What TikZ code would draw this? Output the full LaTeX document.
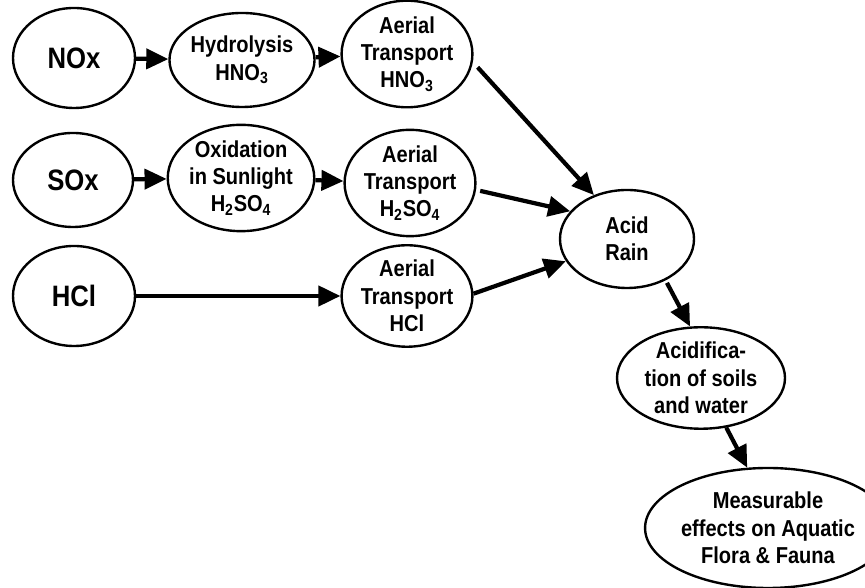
\documentclass[tikz,border=0pt]{standalone}
\usepackage{fontspec}
\setmainfont{Liberation Sans}[FakeStretch=0.87]
\usepackage{tikz}
\usetikzlibrary{shapes,arrows.meta,positioning}

\tikzset{
  blob/.style={ellipse, draw, line width=1.7pt, inner sep=0pt, align=center,
    font=\fontsize{16.4}{19.5}\selectfont\bfseries},
  big/.style={font=\fontsize{21}{22}\selectfont\bfseries},
  flow/.style={line width=3pt, -{Triangle[length=0.55cm,width=0.5cm]}}
}

\begin{document}
\begin{tikzpicture}
        \useasboundingbox (0,0) rectangle (21.625,14.7);

        % Sources
        \node[blob, big, minimum width=3.05cm, minimum height=2.5cm] (nox) at (1.85,13.25) {NOx};
        \node[blob, big, minimum width=3.0cm, minimum height=2.35cm] (sox) at (1.825,10.2) {SOx};
        \node[blob, big, minimum width=3.05cm, minimum height=2.5cm] (hcl) at (1.85,7.3) {HCl};

        % Chemistry
        \node[blob, minimum width=3.1cm, minimum height=2.35cm] (hydro) at (6.05,13.2) {Hydrolysis\\HNO\textsubscript{3}};
        \node[blob, minimum width=3.3cm, minimum height=2.55cm] (oxid) at (6.025,10.25) {Oxidation\\in Sunlight\\H\textsubscript{2}SO\textsubscript{4}};

        % Transport
        \node[blob, minimum width=3.15cm, minimum height=2.3cm] (airn) at (10.175,13.35) {Aerial\\Transport\\HNO\textsubscript{3}};
        \node[blob, minimum width=3.15cm, minimum height=2.35cm] (airs) at (10.25,10.125) {Aerial\\Transport\\H\textsubscript{2}SO\textsubscript{4}};
        \node[blob, minimum width=3.2cm, minimum height=2.5cm] (airh) at (10.175,7.3) {Aerial\\Transport\\HCl};

        % Effects
        \node[blob, minimum width=3.35cm, minimum height=2.45cm] (rain) at (15.675,8.725) {Acid\\Rain};
        \node[blob, minimum width=4.2cm, minimum height=2.5cm] (soil) at (17.525,5.25) {Acidifica-\\tion of soils\\and water};
        \node[blob, minimum width=4.8cm, minimum height=3.0cm] (biota) at (19.2,1.5) {Measurable\\effects on Aquatic\\Flora \& Fauna};

        % Arrows
        \draw[flow] (nox) -- (hydro);
        \draw[flow] (hydro) -- (airn);
        \draw[flow] (sox) -- (oxid);
        \draw[flow] (oxid) -- (airs);
        \draw[flow] (hcl) -- (airh);
        \draw[flow, shorten <=5pt] (airn.-7) -- (rain.127);
        \draw[flow, shorten <=3pt] (airs.-6) -- (rain.154);
        \draw[flow] (airh.2) -- (rain.200);
        \draw[flow, shorten <=2pt] (rain.-47) -- (soil.102);
        \draw[flow] (soil.-63) -- (biota.109);
    \end{tikzpicture}
\end{document}
